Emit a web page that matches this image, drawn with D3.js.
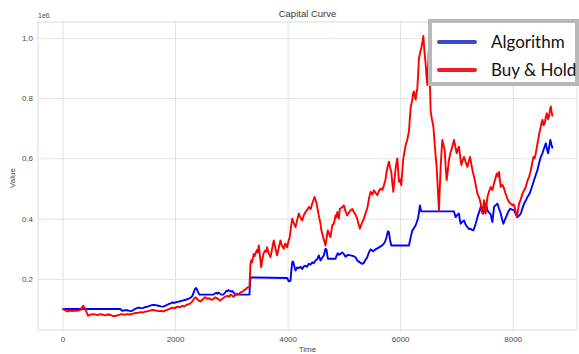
<!DOCTYPE html>
<html>
<head>
<meta charset="utf-8">
<script src="https://cdn.jsdelivr.net/npm/d3@7"></script>
<style>
  body { margin: 0; background: #fff; }
  svg { display: block; }
</style>
</head>
<body>
<svg id="chart" width="579" height="354"></svg>
<script>
// Portfolio value over time, [time step, value in thousands of dollars]
const algorithm = [[0,100],[1027,100],[1045,97],[1062,94],[1105,96],[1151,96],[1190,94],[1222,93],[1260,97],[1294,101],[1320,103],[1347,105],[1390,103],[1436,104],[1480,107],[1525,109],[1570,112],[1614,114],[1660,113],[1703,111],[1750,109],[1792,108],[1840,112],[1881,116],[1920,119],[1952,122],[2000,121],[2041,124],[2090,126],[2130,128],[2175,130],[2219,133],[2250,135],[2272,137],[2290,140],[2308,144],[2325,152],[2343,161],[2360,168],[2374,170],[2390,165],[2406,158],[2432,148],[2681,148],[2710,152],[2735,154],[2750,151],[2770,155],[2800,151],[2824,148],[2859,148],[2890,155],[2913,161],[2930,159],[2948,163],[2975,160],[3002,158],[3020,160],[3037,155],[3073,148],[3322,148],[3340,205],[3993,203],[4021,192],[4052,194],[4068,230],[4082,255],[4095,258],[4110,250],[4125,238],[4141,228],[4170,238],[4199,236],[4230,240],[4260,233],[4290,242],[4319,244],[4345,240],[4377,250],[4405,247],[4438,255],[4465,252],[4496,261],[4525,265],[4555,278],[4570,270],[4585,261],[4615,270],[4644,278],[4660,290],[4674,300],[4692,297],[4705,280],[4715,267],[4852,267],[4872,278],[4893,285],[4915,280],[4941,283],[4970,288],[5000,283],[5015,278],[5030,274],[5075,280],[5119,278],[5165,276],[5208,272],[5225,266],[5238,261],[5285,255],[5327,250],[5350,252],[5368,258],[5390,265],[5416,272],[5445,288],[5475,298],[5520,292],[5564,298],[5610,303],[5653,308],[5685,312],[5712,317],[5742,328],[5760,340],[5772,350],[5785,358],[5801,355],[5820,330],[5843,311],[6157,311],[6185,336],[6217,361],[6245,368],[6276,378],[6295,388],[6317,400],[6335,420],[6352,444],[6365,432],[6377,424],[6957,424],[6970,415],[6987,405],[7015,412],[7046,417],[7060,398],[7076,383],[7105,390],[7135,394],[7165,380],[7196,372],[7225,365],[7254,367],[7280,362],[7302,361],[7320,370],[7343,383],[7365,398],[7384,411],[7410,425],[7432,439],[7455,425],[7480,417],[7500,435],[7521,450],[7537,440],[7552,428],[7580,420],[7610,414],[7625,400],[7640,389],[7655,415],[7669,439],[7700,445],[7729,450],[7760,432],[7788,417],[7812,398],[7836,383],[7865,398],[7895,411],[7925,424],[7954,433],[7990,430],[8025,428],[8055,415],[8085,405],[8115,410],[8145,417],[8175,435],[8203,450],[8233,460],[8263,472],[8292,480],[8322,494],[8350,510],[8381,528],[8410,545],[8441,561],[8470,585],[8500,605],[8525,615],[8548,628],[8570,640],[8589,650],[8610,630],[8630,617],[8650,640],[8670,661],[8690,645],[8708,633]];

const buyHold = [[0,100],[40,97],[84,92],[130,95],[173,93],[220,95],[262,94],[315,97],[340,104],[368,111],[385,106],[404,101],[430,88],[457,78],[510,82],[564,83],[620,80],[671,83],[715,81],[760,79],[805,82],[849,81],[895,77],[938,77],[990,80],[1045,83],[1100,81],[1151,83],[1200,82],[1258,85],[1300,87],[1347,88],[1390,90],[1436,89],[1480,92],[1525,93],[1570,96],[1614,97],[1660,95],[1703,93],[1750,94],[1792,92],[1840,96],[1881,99],[1920,102],[1952,105],[2000,103],[2041,108],[2090,106],[2130,111],[2170,109],[2201,114],[2240,116],[2272,119],[2300,124],[2326,131],[2345,136],[2361,139],[2385,135],[2406,131],[2430,127],[2450,125],[2480,130],[2504,134],[2520,137],[2539,139],[2575,134],[2610,136],[2645,131],[2681,133],[2710,139],[2735,137],[2770,133],[2806,128],[2835,133],[2859,137],[2895,141],[2930,144],[2960,140],[2984,148],[3010,145],[3037,141],[3075,147],[3109,151],[3135,149],[3162,155],[3200,158],[3233,164],[3260,166],[3286,172],[3322,171],[3340,250],[3355,262],[3370,255],[3385,270],[3399,283],[3415,276],[3429,284],[3455,296],[3470,288],[3488,311],[3510,275],[3530,239],[3550,262],[3571,284],[3600,294],[3620,290],[3637,305],[3665,285],[3696,272],[3725,300],[3754,328],[3785,300],[3815,278],[3845,305],[3874,328],[3900,310],[3932,300],[3960,318],[3993,305],[4015,325],[4039,339],[4060,372],[4082,400],[4110,385],[4141,372],[4170,395],[4199,417],[4230,403],[4260,394],[4290,412],[4319,422],[4350,430],[4377,439],[4410,432],[4438,450],[4460,462],[4479,472],[4510,455],[4537,428],[4560,405],[4585,383],[4600,362],[4616,350],[4645,330],[4674,311],[4695,338],[4715,361],[4740,348],[4763,339],[4780,360],[4793,378],[4822,383],[4840,398],[4852,411],[4870,405],[4883,422],[4911,400],[4929,433],[4965,437],[5000,444],[5030,425],[5060,411],[5090,420],[5119,428],[5150,432],[5178,422],[5210,412],[5238,400],[5260,382],[5285,367],[5320,385],[5356,400],[5385,418],[5416,433],[5445,465],[5475,489],[5505,480],[5534,494],[5565,485],[5594,478],[5625,492],[5653,500],[5685,495],[5712,511],[5740,530],[5760,555],[5780,575],[5801,589],[5822,570],[5843,555],[5860,520],[5879,489],[5900,530],[5920,567],[5935,585],[5950,600],[5965,560],[5979,522],[6000,530],[6021,511],[6040,560],[6057,600],[6078,622],[6098,644],[6125,660],[6157,689],[6172,730],[6187,767],[6200,780],[6217,795],[6230,815],[6246,822],[6262,805],[6276,795],[6290,815],[6306,833],[6320,880],[6335,933],[6355,950],[6377,967],[6395,985],[6413,1006],[6430,960],[6454,911],[6470,870],[6484,844],[6498,910],[6512,967],[6528,860],[6543,755],[6565,730],[6591,705],[6602,680],[6614,650],[6630,610],[6649,572],[6670,500],[6690,428],[6705,500],[6721,572],[6735,620],[6751,661],[6770,645],[6792,628],[6810,570],[6828,528],[6850,565],[6868,594],[6890,615],[6911,628],[6935,645],[6957,661],[6980,640],[7005,617],[7025,630],[7046,639],[7068,605],[7089,578],[7110,592],[7135,605],[7165,588],[7196,572],[7220,590],[7242,605],[7265,582],[7285,561],[7305,545],[7326,528],[7350,505],[7374,483],[7398,472],[7420,461],[7442,440],[7463,417],[7478,440],[7491,461],[7505,438],[7521,417],[7535,445],[7552,472],[7580,490],[7610,505],[7640,495],[7669,517],[7695,535],[7717,550],[7740,540],[7758,555],[7772,530],[7788,505],[7818,512],[7847,500],[7870,485],[7895,472],[7915,462],[7936,455],[7965,450],[7996,444],[8015,448],[8037,439],[8055,420],[8073,405],[8095,428],[8114,450],[8145,465],[8174,483],[8205,495],[8233,505],[8262,525],[8292,539],[8315,555],[8335,572],[8352,590],[8370,605],[8390,600],[8411,617],[8432,640],[8452,661],[8475,685],[8500,705],[8515,720],[8530,728],[8550,710],[8571,717],[8590,738],[8607,750],[8628,730],[8648,739],[8662,760],[8678,772],[8693,752],[8708,739]];

const xTickValues = [0, 2000, 4000, 6000, 8000];
const yTickValues = [200, 400, 600, 800, 1000];
const yTickLabels = ["0.2", "0.4", "0.6", "0.8", "1.0"];
const seriesNames = ["Algorithm", "Buy & Hold"];

const svg = d3.select("#chart");
const plot = { left: 38, top: 22, right: 577, bottom: 330 };

// 5% padding on each side of the data extent
function padded(extent) {
  const span = extent[1] - extent[0];
  return [extent[0] - span * 0.05, extent[1] + span * 0.05];
}
const allPoints = algorithm.concat(buyHold);
const x = d3.scaleLinear()
  .domain(padded(d3.extent(allPoints, d => d[0])))
  .range([plot.left, plot.right]);
const y = d3.scaleLinear()
  .domain(padded(d3.extent(allPoints, d => d[1])))
  .range([plot.bottom, plot.top]);

const gridColor = "#e3e3e3";
const textColor = "#4a4a4a";
const font = "'Liberation Sans', Arial, sans-serif";

// grid
svg.append("g")
  .attr("transform", `translate(0,${plot.bottom})`)
  .call(d3.axisBottom(x).tickValues(xTickValues).tickSize(-(plot.bottom - plot.top)).tickFormat(d3.format("d")).tickPadding(6))
  .call(g => g.select(".domain").remove())
  .call(g => g.selectAll("line").attr("stroke", gridColor).attr("stroke-width", 1))
  .call(g => g.selectAll("text").attr("fill", textColor).attr("font-size", 8).attr("font-family", font));

svg.append("g")
  .attr("transform", `translate(${plot.left},0)`)
  .call(d3.axisLeft(y).tickValues(yTickValues).tickSize(-(plot.right - plot.left))
    .tickFormat((d, i) => yTickLabels[i]).tickPadding(5))
  .call(g => g.select(".domain").remove())
  .call(g => g.selectAll("line").attr("stroke", gridColor).attr("stroke-width", 1))
  .call(g => g.selectAll("text").attr("fill", textColor).attr("font-size", 8).attr("font-family", font));

// frame
svg.append("rect")
  .attr("x", plot.left).attr("y", plot.top)
  .attr("width", plot.right - plot.left).attr("height", plot.bottom - plot.top)
  .attr("fill", "none").attr("stroke", "#dcdcdc").attr("stroke-width", 1);

// curves
const line = d3.line().x(d => x(d[0])).y(d => y(d[1]));
const clipId = "plot-clip";
svg.append("clipPath").attr("id", clipId)
  .append("rect").attr("x", plot.left).attr("y", plot.top)
  .attr("width", plot.right - plot.left).attr("height", plot.bottom - plot.top);

const curves = svg.append("g").attr("clip-path", `url(#${clipId})`);
curves.append("path").datum(algorithm)
  .attr("d", line).attr("fill", "none").attr("stroke", "#0000ff")
  .attr("stroke-width", 1.9).attr("stroke-linejoin", "round");
curves.append("path").datum(buyHold)
  .attr("d", line).attr("fill", "none").attr("stroke", "#ff0000")
  .attr("stroke-width", 1.9).attr("stroke-linejoin", "round");

// titles and labels
svg.append("text").attr("x", (plot.left + plot.right) / 2).attr("y", 17)
  .attr("text-anchor", "middle").attr("font-size", 9.5).attr("font-family", font)
  .attr("fill", "#3a3a3a").text("Capital Curve");
svg.append("text").attr("x", plot.left).attr("y", 18)
  .attr("font-size", 7).attr("font-family", font).attr("fill", textColor).text("1e6");
svg.append("text").attr("x", (plot.left + plot.right) / 2).attr("y", 352)
  .attr("text-anchor", "middle").attr("font-size", 8).attr("font-family", font)
  .attr("fill", textColor).text("Time");
svg.append("text").attr("transform", `translate(15,${(plot.top + plot.bottom) / 2 + 2}) rotate(-90)`)
  .attr("text-anchor", "middle").attr("font-size", 8).attr("font-family", font)
  .attr("fill", textColor).text("Value");

// legend
const legend = svg.append("g").attr("transform", "translate(430,21)");
legend.append("rect").attr("x", 0).attr("y", 0).attr("width", 147).attr("height", 63)
  .attr("fill", "#fff").attr("stroke", "#b8b8b8").attr("stroke-width", 4);
const legendColors = ["#3f48cc", "#ed1c24"];
seriesNames.forEach((name, i) => {
  const ly = 21 + i * 28;
  legend.append("line").attr("x1", 9).attr("x2", 45).attr("y1", ly).attr("y2", ly)
    .attr("stroke", legendColors[i]).attr("stroke-width", 4).attr("stroke-linecap", "round");
  legend.append("text").attr("x", 61).attr("y", ly + 6)
    .attr("font-size", 17).attr("font-family", "Lato, 'Open Sans', sans-serif")
    .attr("fill", "#111").text(name);
});
</script>
</body>
</html>
